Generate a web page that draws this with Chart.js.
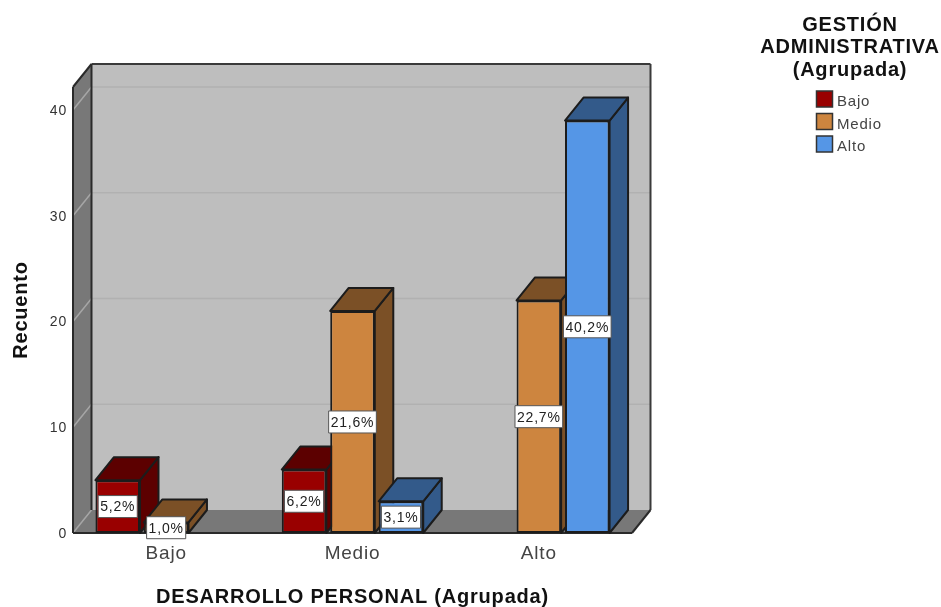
<!DOCTYPE html>
<html>
<head>
<meta charset="utf-8">
<style>html,body{margin:0;padding:0;background:#fff;overflow:hidden}canvas{display:block}</style>
<script src="https://cdn.jsdelivr.net/npm/chart.js@4"></script>
</head>
<body>
<canvas id="c" width="941" height="607"></canvas>
<script>
const categories = ['Bajo', 'Medio', 'Alto'];
const seriesBajo = [5, 6, null];
const seriesMedio = [1, 21, 22];
const seriesAlto = [null, 3, 39];
const labelsBajo = ['5,2%', '6,2%', null];
const labelsMedio = ['1,0%', '21,6%', '22,7%'];
const labelsAlto = [null, '3,1%', '40,2%'];
const yTicks = [0, 10, 20, 30, 40];
const yMax = 42.18;
const legendTitle = ['GESTIÓN', 'ADMINISTRATIVA', '(Agrupada)'];

const DX = 18.5, DY = -23;
const FONT = '"Liberation Sans", Arial, sans-serif';
const EDGE = '#1c1c1c';

function poly(ctx, pts, fill, stroke, lw) {
  ctx.beginPath();
  pts.forEach((p, i) => i ? ctx.lineTo(p[0], p[1]) : ctx.moveTo(p[0], p[1]));
  ctx.closePath();
  if (fill) { ctx.fillStyle = fill; ctx.fill(); }
  if (stroke) { ctx.strokeStyle = stroke; ctx.lineWidth = lw || 1.5; ctx.lineJoin = 'round'; ctx.stroke(); }
}
function seg(ctx, a, b, c, lw) {
  ctx.beginPath(); ctx.moveTo(a[0], a[1]); ctx.lineTo(b[0], b[1]);
  ctx.strokeStyle = c; ctx.lineWidth = lw; ctx.stroke();
}

const box3d = {
  id: 'box3d',
  beforeDraw(chart) {
    chart.ctx.letterSpacing = '0.8px';
  },
  beforeDatasetsDraw(chart) {
    const { ctx, chartArea: a, scales: { y } } = chart;
    const L = a.left, R = a.right, T = a.top, B = a.bottom;
    ctx.save();
    poly(ctx, [[L + DX, T + DY], [R + DX, T + DY], [R + DX, B + DY], [L + DX, B + DY]], '#bebebe');
    poly(ctx, [[L, T], [L + DX, T + DY], [L + DX, B + DY], [L, B]], '#787878');
    poly(ctx, [[L, B], [L + DX, B + DY], [R + DX, B + DY], [R, B]], '#787878');
    yTicks.slice(1).forEach(v => {
      const p = y.getPixelForValue(v);
      seg(ctx, [L, p], [L + DX, p + DY], '#a6a6a6', 1.5);
      seg(ctx, [L + DX, p + DY], [R + DX, p + DY], '#b1b1b1', 1.5);
    });
    seg(ctx, [L, B], [L + DX, B + DY], '#a6a6a6', 1.5);
    seg(ctx, [L, T], [L, B], '#2a2a2a', 2);
    seg(ctx, [L, T], [L + DX, T + DY], '#2a2a2a', 2);
    seg(ctx, [L + DX, T + DY], [R + DX, T + DY], '#3a3a3a', 2);
    seg(ctx, [L + DX, T + DY], [L + DX, B + DY], '#2a2a2a', 2);
    seg(ctx, [R + DX, T + DY], [R + DX, B + DY], '#3a3a3a', 2);
    seg(ctx, [R + DX, B + DY], [R, B], '#2a2a2a', 2);
    seg(ctx, [L, B], [R, B], '#2a2a2a', 2);
    ctx.restore();
  },
  // The library paints the first dataset last; the depth faces need left-to-right painting.
  beforeDatasetDraw() { return false; },
  afterDatasetsDraw(chart) {
    const { ctx } = chart;
    ctx.save();
    chart.data.datasets.forEach((ds, di) => {
      const meta = chart.getDatasetMeta(di);
      meta.data.forEach((el, i) => {
        if (ds.data[i] == null) return;
        const l = el.x - el.width / 2, r = el.x + el.width / 2, t = el.y, b = el.base;
        poly(ctx, [[r, t], [r + DX, t + DY], [r + DX, b + DY], [r, b]], ds.depthColor, EDGE, 2);
        poly(ctx, [[l, t], [l + DX, t + DY], [r + DX, t + DY], [r, t]], ds.depthColor, EDGE, 2);
      });
      meta.controller.draw();
    });
    ctx.font = '14px ' + FONT;
    ctx.textAlign = 'center';
    ctx.textBaseline = 'middle';
    chart.data.datasets.forEach((ds, di) => {
      chart.getDatasetMeta(di).data.forEach((el, i) => {
        const txt = ds.pct[i];
        if (!txt) return;
        const cy = (el.y + el.base) / 2;
        const w = ctx.measureText(txt).width + 4, h = 22;
        ctx.fillStyle = '#fff';
        ctx.fillRect(el.x - w / 2, cy - h / 2, w, h);
        ctx.strokeStyle = '#555';
        ctx.lineWidth = 1;
        ctx.strokeRect(el.x - w / 2, cy - h / 2, w, h);
        ctx.fillStyle = '#222';
        ctx.fillText(txt, el.x, cy + 1);
      });
    });
    ctx.restore();
  },
  afterDraw(chart) {
    const { ctx } = chart;
    ctx.save();
    ctx.textAlign = 'center';
    ctx.textBaseline = 'middle';
    ctx.fillStyle = '#111';
    ctx.font = 'bold 20px ' + FONT;
    legendTitle.forEach((t, i) => ctx.fillText(t, 850, 25 + i * 22.5));
    ctx.textAlign = 'left';
    ctx.font = '15px ' + FONT;
    chart.data.datasets.forEach((ds, i) => {
      const cy = 99 + i * 22.5;
      ctx.fillStyle = ds.backgroundColor;
      ctx.fillRect(816.5, cy - 8, 16, 16);
      ctx.strokeStyle = '#333';
      ctx.lineWidth = 1.5;
      ctx.strokeRect(816.5, cy - 8, 16, 16);
      ctx.fillStyle = '#444';
      ctx.fillText(ds.label, 837, cy + 3);
    });
    ctx.restore();
  }
};

new Chart(document.getElementById('c'), {
  type: 'bar',
  data: {
    labels: categories,
    datasets: [
      { label: 'Bajo', data: seriesBajo, pct: labelsBajo, backgroundColor: '#990000', depthColor: '#5c0000', borderColor: EDGE, borderWidth: 2, borderSkipped: false },
      { label: 'Medio', data: seriesMedio, pct: labelsMedio, backgroundColor: '#cd853f', depthColor: '#7b5026', borderColor: EDGE, borderWidth: 2, borderSkipped: false },
      { label: 'Alto', data: seriesAlto, pct: labelsAlto, backgroundColor: '#5596e6', depthColor: '#335a8a', borderColor: EDGE, borderWidth: 2, borderSkipped: false }
    ]
  },
  options: {
    responsive: false,
    animation: false,
    layout: { padding: { left: 0, right: 309, top: 87, bottom: 0 } },
    categoryPercentage: 0.78,
    barPercentage: 0.92,
    plugins: { legend: { display: false }, title: { display: false }, tooltip: { enabled: false } },
    scales: {
      x: {
        grid: { display: false, drawTicks: false },
        border: { display: false },
        ticks: { color: '#444', padding: 9, font: { family: FONT, size: 19 }, maxRotation: 0 },
        title: { display: true, text: 'DESARROLLO PERSONAL (Agrupada)', color: '#111', font: { family: FONT, size: 20, weight: 'bold' }, padding: { top: 15, bottom: -2 } },
        afterFit(s) { s.height = 74; }
      },
      y: {
        min: 0,
        max: yMax,
        grid: { display: false, drawTicks: false },
        border: { display: false },
        afterBuildTicks(s) { s.ticks = yTicks.map(v => ({ value: v })); },
        ticks: { color: '#333', padding: 6, labelOffset: 1, font: { family: FONT, size: 14 } },
        title: { display: true, text: 'Recuento', color: '#111', font: { family: FONT, size: 20, weight: 'bold' }, padding: { top: 9, bottom: 0 } },
        afterFit(s) { s.width = 73; }
      }
    }
  },
  plugins: [box3d]
});
</script>
</body>
</html>
